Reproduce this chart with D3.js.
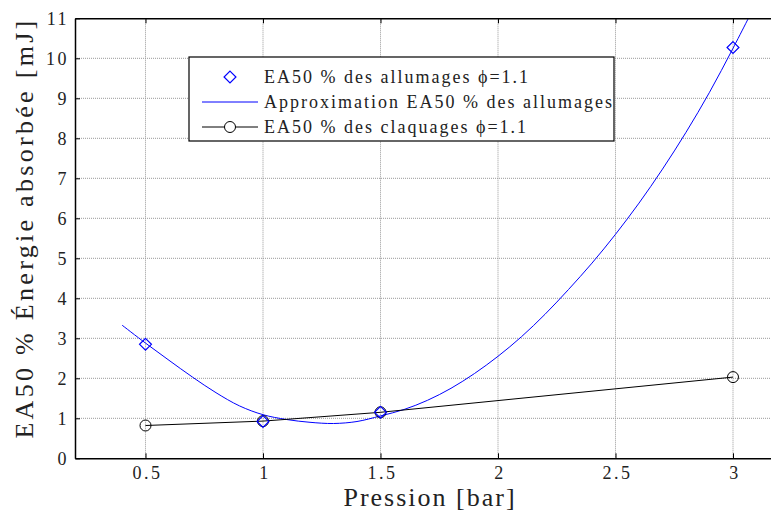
<!DOCTYPE html>
<html>
<head>
<meta charset="utf-8">
<script src="https://cdn.jsdelivr.net/npm/d3@7"></script>
<style>
  body { margin: 0; background: #fff; }
  svg { display: block; font-family: "Liberation Serif", "DejaVu Serif", serif; }
</style>
</head>
<body>
<div id="chart"></div>
<script>
// measured points
const pressure = [0.5, 1, 1.5, 3];
const allumages = [2.85, 0.92, 1.15, 10.27];
const claquages = [0.82, 0.93, 1.15, 2.03];

// fitted curve
const fitX = [0.4, 0.5, 0.6, 0.7, 0.8, 0.9, 1.0, 1.1, 1.2, 1.3, 1.4, 1.5, 1.6, 1.7, 1.8, 1.9, 2.0,
  2.1, 2.2, 2.3, 2.4, 2.5, 2.6, 2.7, 2.8, 2.9, 3.0, 3.1];
const fitY = [3.33, 2.88, 2.45, 2.03, 1.64, 1.31, 1.09, 0.97, 0.9, 0.87, 0.92, 1.06, 1.22, 1.45, 1.75,
  2.12, 2.55, 3.04, 3.6, 4.22, 4.88, 5.6, 6.38, 7.23, 8.15, 9.15, 10.25, 11.4];

const xTicks = [0.5, 1, 1.5, 2, 2.5, 3];
const yTicks = [0, 1, 2, 3, 4, 5, 6, 7, 8, 9, 10, 11];

const legendLabels = [
  "EA50 % des allumages \u03d5=1.1",
  "Approximation EA50 % des allumages",
  "EA50 % des claquages \u03d5=1.1"
];

const w = 771, h = 514;
const pLeft = 75, pRight = 780, pTop = 18.3, pBottom = 458.3;

const svg = d3.select("#chart").append("svg").attr("width", w).attr("height", h);

const x = d3.scaleLinear().domain([0.2, 3.2]).range([pLeft, pRight]);
const y = d3.scaleLinear().domain([0, 11]).range([pBottom, pTop]);

// grid
const grid = svg.append("g").attr("stroke", "#999").attr("stroke-width", 1).attr("stroke-dasharray", "1,1");
grid.selectAll(".gx").data(xTicks).enter().append("line")
  .attr("x1", d => x(d)).attr("x2", d => x(d)).attr("y1", pTop).attr("y2", pBottom);
grid.selectAll(".gy").data(yTicks.slice(1, -1)).enter().append("line")
  .attr("x1", pLeft).attr("x2", pRight).attr("y1", d => y(d)).attr("y2", d => y(d));

// clip for curves
svg.append("clipPath").attr("id", "clip").append("rect")
  .attr("x", pLeft).attr("y", pTop).attr("width", pRight - pLeft).attr("height", pBottom - pTop);

const plot = svg.append("g").attr("clip-path", "url(#clip)");

plot.append("path")
  .datum(fitX.map((d, i) => [d, fitY[i]]))
  .attr("d", d3.line().x(d => x(d[0])).y(d => y(d[1])).curve(d3.curveCatmullRom))
  .attr("fill", "none").attr("stroke", "#0000ff").attr("stroke-width", 1);

plot.append("path")
  .datum(pressure.map((d, i) => [d, claquages[i]]))
  .attr("d", d3.line().x(d => x(d[0])).y(d => y(d[1])))
  .attr("fill", "none").attr("stroke", "#000").attr("stroke-width", 1);

const diamond = d3.symbol().type(d3.symbolDiamond2).size(90);

plot.selectAll(".circ").data(pressure).enter().append("circle")
  .attr("cx", d => x(d)).attr("cy", (d, i) => y(claquages[i])).attr("r", 5.5)
  .attr("fill", "none").attr("stroke", "#000").attr("stroke-width", 1);

plot.selectAll(".dia").data(pressure).enter().append("path")
  .attr("d", diamond)
  .attr("transform", (d, i) => "translate(" + x(d) + "," + y(allumages[i]) + ")")
  .attr("fill", "none").attr("stroke", "#0000ff").attr("stroke-width", 1.2);

// axes
const xAxis = d3.axisBottom(x).tickValues(xTicks).tickFormat(d3.format("")).tickSizeInner(-5).tickSizeOuter(0).tickPadding(8);
const yAxis = d3.axisLeft(y).tickValues(yTicks).tickFormat(d3.format("")).tickSizeInner(-5).tickSizeOuter(0).tickPadding(6);

const gx = svg.append("g").attr("transform", "translate(0," + pBottom + ")").call(xAxis);
const gy = svg.append("g").attr("transform", "translate(" + pLeft + ",0)").call(yAxis);
const gxt = svg.append("g").attr("transform", "translate(0," + pTop + ")")
  .call(d3.axisTop(x).tickValues(xTicks).tickFormat("").tickSizeInner(-5).tickSizeOuter(0));

[gx, gy, gxt].forEach(g => {
  g.select(".domain").attr("stroke", "#000").attr("stroke-width", 1.5);
  g.selectAll(".tick line").attr("stroke", "#000");
  g.selectAll("text").attr("font-family", "Liberation Serif").attr("font-size", 18)
    .attr("letter-spacing", 2.5).attr("fill", "#222");
});
gx.selectAll("text").attr("dx", 1.5);

// axis titles
svg.append("text").attr("x", 430).attr("y", 506).attr("text-anchor", "middle")
  .attr("font-size", 26).attr("letter-spacing", 2).attr("fill", "#222").text("Pression [bar]");
svg.append("text").attr("transform", "translate(33,228) rotate(-90)").attr("text-anchor", "middle")
  .attr("font-size", 26).attr("letter-spacing", 3.3).attr("fill", "#222").text("EA50 % \u00c9nergie absorb\u00e9e [mJ]");

// legend
const lg = svg.append("g");
lg.append("rect").attr("x", 189).attr("y", 57).attr("width", 425).attr("height", 84)
  .attr("fill", "#fff").attr("stroke", "#000").attr("stroke-width", 1.2);
const rowY = [77, 102, 127];
lg.append("path").attr("d", diamond)
  .attr("transform", "translate(230," + rowY[0] + ")")
  .attr("fill", "none").attr("stroke", "#0000ff").attr("stroke-width", 1.2);
lg.append("line").attr("x1", 202).attr("x2", 258).attr("y1", rowY[1]).attr("y2", rowY[1])
  .attr("stroke", "#0000ff");
lg.append("line").attr("x1", 202).attr("x2", 258).attr("y1", rowY[2]).attr("y2", rowY[2])
  .attr("stroke", "#000");
lg.append("circle").attr("cx", 230).attr("cy", rowY[2]).attr("r", 5.5)
  .attr("fill", "#fff").attr("stroke", "#000");
lg.selectAll(".lt").data(legendLabels).enter().append("text")
  .attr("x", 264).attr("y", (d, i) => rowY[i]).attr("dy", "0.35em")
  .attr("font-size", 18).attr("letter-spacing", 2).attr("fill", "#222").text(d => d);
</script>
</body>
</html>
